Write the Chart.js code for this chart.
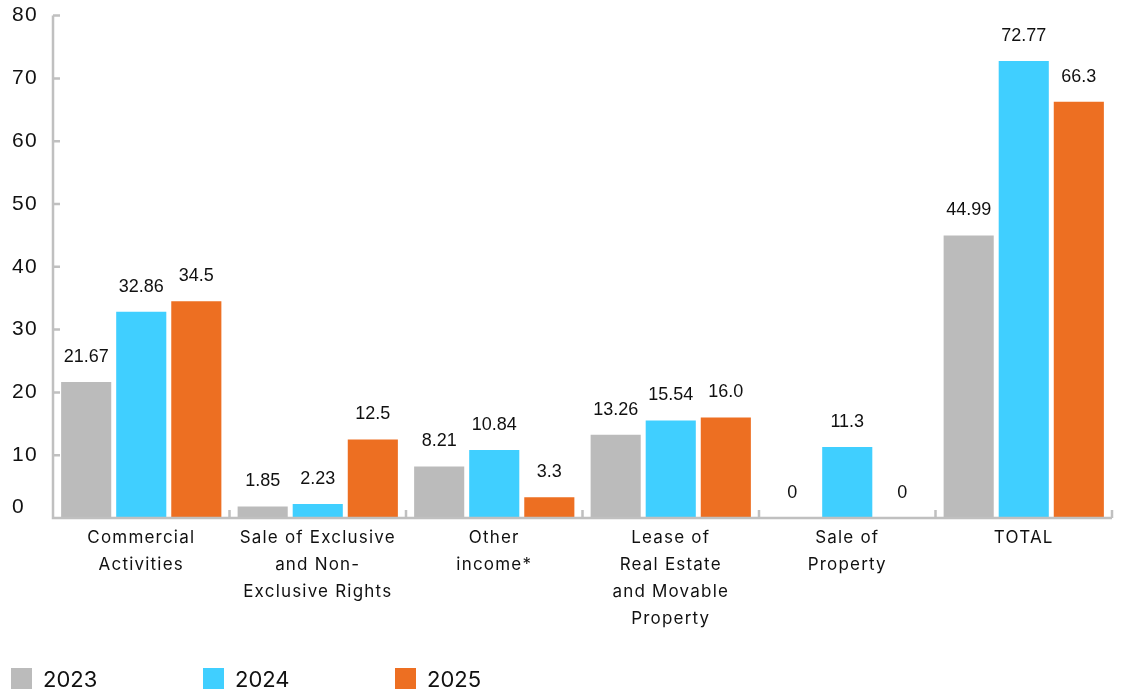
<!DOCTYPE html>
<html>
<head>
<meta charset="utf-8">
<script src="https://cdn.jsdelivr.net/npm/chart.js@4.4.1/dist/chart.umd.min.js"></script>
<style>
  html, body { margin: 0; padding: 0; background: #fff; }
  #wrap { position: relative; width: 1121px; height: 692px; overflow: hidden; }
  #legend { position: absolute; left: 11px; top: 668px; display: flex; font-family: Inter, sans-serif; font-size: 22px; color: #111; }
  .item { display: flex; align-items: flex-start; width: 192px; }
  .box { width: 21px; height: 21px; margin-right: 11px; }
  .item span { line-height: 24px; margin-top: -1px; }
</style>
</head>
<body>
<div id="wrap">
  <canvas id="chart" width="1121" height="692"></canvas>
  <div id="legend"></div>
</div>
<script>
const categories = [
  ["Commercial", "Activities"],
  ["Sale of Exclusive", "and Non-", "Exclusive Rights"],
  ["Other", "income*"],
  ["Lease of", "Real Estate", "and Movable", "Property"],
  ["Sale of", "Property"],
  ["TOTAL"]
];
const years = ["2023", "2024", "2025"];
const values2023 = [21.67, 1.85, 8.21, 13.26, 0, 44.99];
const values2024 = [32.86, 2.23, 10.84, 15.54, 11.3, 72.77];
const values2025 = [34.5, 12.5, 3.3, 16.0, 0, 66.3];
// label text as printed above each bar
const labels2023 = ["21.67", "1.85", "8.21", "13.26", "0", "44.99"];
const labels2024 = ["32.86", "2.23", "10.84", "15.54", "11.3", "72.77"];
const labels2025 = ["34.5", "12.5", "3.3", "16.0", "0", "66.3"];
const colors = ["#bbbbbb", "#40cfff", "#ed6f22"];

const AXIS_COLOR = "#c0c0c0";
const TICK_FONT = "21px 'Liberation Sans', Arial, sans-serif";

// slightly wider tracking for the axis text
const tracking = {
  id: "tracking",
  beforeDraw(chart) { chart.ctx.letterSpacing = "1.2px"; },
  afterDraw(chart) { chart.ctx.letterSpacing = "0px"; }
};

// axis lines with short inward tick marks, plus the "0" label sitting a bit higher
const axisLines = {
  id: "axisLines",
  afterDraw(chart) {
    const { ctx, chartArea: a, scales: { x, y } } = chart;
    ctx.save();
    ctx.strokeStyle = AXIS_COLOR;
    ctx.lineWidth = 2.5;
    ctx.beginPath();
    ctx.moveTo(a.left, y.getPixelForValue(80));
    ctx.lineTo(a.left, a.bottom);
    ctx.lineTo(a.right, a.bottom);
    y.ticks.forEach(t => {
      const py = y.getPixelForValue(t.value);
      ctx.moveTo(a.left, py);
      ctx.lineTo(a.left + 7, py);
    });
    const step = (a.right - a.left) / categories.length;
    for (let i = 0; i <= categories.length; i++) {
      const px = i === 0 ? a.left : x.getPixelForValue(i - 1) + step / 2;
      ctx.moveTo(px, a.bottom);
      ctx.lineTo(px, a.bottom - 8);
    }
    ctx.stroke();

    ctx.letterSpacing = "1.2px";
    ctx.font = TICK_FONT;
    ctx.fillStyle = "#111";
    ctx.textAlign = "left";
    ctx.textBaseline = "middle";
    ctx.fillText("0", y.left, y.getPixelForValue(0) - 11);
    ctx.restore();
  }
};

// value labels above the bars
const valueLabels = {
  id: "valueLabels",
  afterDatasetsDraw(chart) {
    const { ctx } = chart;
    const texts = [labels2023, labels2024, labels2025];
    ctx.save();
    ctx.letterSpacing = "0px";
    ctx.font = "18px 'Liberation Sans', Arial, sans-serif";
    ctx.fillStyle = "#111";
    ctx.textAlign = "center";
    ctx.textBaseline = "middle";
    chart.data.datasets.forEach((ds, di) => {
      chart.getDatasetMeta(di).data.forEach((bar, i) => {
        ctx.fillText(texts[di][i], bar.x, bar.y - 25);
      });
    });
    ctx.restore();
  }
};

new Chart(document.getElementById("chart"), {
  type: "bar",
  data: {
    labels: categories,
    datasets: [
      { label: years[0], data: values2023, backgroundColor: colors[0] },
      { label: years[1], data: values2024, backgroundColor: colors[1] },
      { label: years[2], data: values2025, backgroundColor: colors[2] }
    ]
  },
  options: {
    responsive: false,
    animation: false,
    events: [],
    layout: { padding: { top: 6, left: 12, right: 9, bottom: 0 } },
    datasets: { bar: { categoryPercentage: 0.936, barPercentage: 0.91 } },
    scales: {
      x: {
        grid: { display: false, drawTicks: false },
        border: { display: false },
        ticks: {
          color: "#111",
          padding: 6,
          maxRotation: 0,
          autoSkip: false,
          font: { family: "Inter, sans-serif", size: 17, lineHeight: 1.6 }
        },
        afterFit: s => { s.height = 174; }
      },
      y: {
        min: 0,
        max: 80,
        grid: { display: false, drawTicks: false },
        border: { display: false },
        ticks: {
          stepSize: 10,
          crossAlign: "far",
          color: "#111",
          font: { family: "'Liberation Sans', Arial, sans-serif", size: 21 },
          callback: v => (v === 0 ? "" : v)
        },
        afterFit: s => { s.width = 41; }
      }
    },
    plugins: {
      legend: { display: false },
      tooltip: { enabled: false }
    }
  },
  plugins: [tracking, axisLines, valueLabels]
});

// legend row under the chart
const legendEl = document.getElementById("legend");
years.forEach((yr, i) => {
  const item = document.createElement("div");
  item.className = "item";
  item.innerHTML = `<div class="box" style="background:${colors[i]}"></div><span>${yr}</span>`;
  legendEl.appendChild(item);
});
</script>
</body>
</html>
